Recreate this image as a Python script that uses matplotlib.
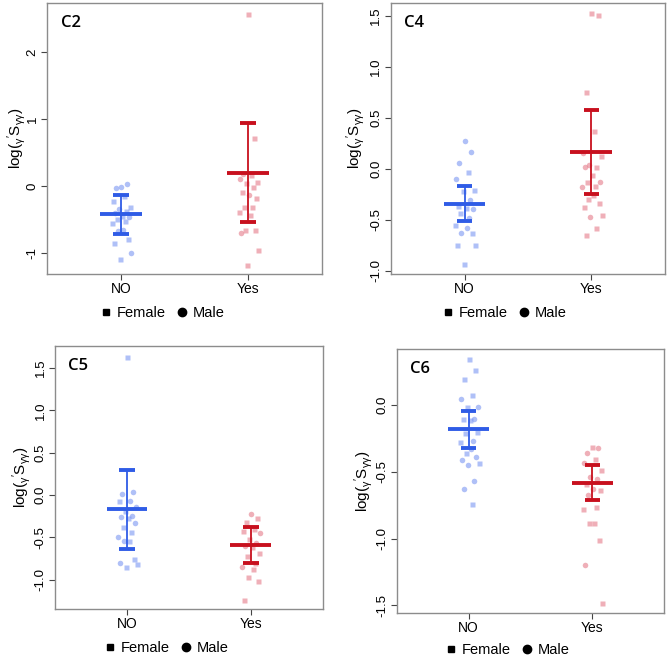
import matplotlib
matplotlib.use("Agg")
import matplotlib.pyplot as plt
import numpy as np

plt.rcParams['font.family'] = ['Liberation Sans', 'DejaVu Sans']
plt.rcParams['mathtext.default'] = 'regular'

groups = ["NO", "Yes"]
panels = ["C2", "C4", "C5", "C6"]

# values per panel / group, with sex codes (F = female square, M = male circle)
c2_no_vals = [-0.02, 0.03, -0.03, -0.15, -0.23, -0.31, -0.35, -0.38, -0.40, -0.45, -0.47, -0.50,
              -0.52, -0.56, -0.66, -0.67, -0.79, -0.86, -1.00, -1.10]
c2_no_sex = list("MMMFFFMFMFMFFFMMFFMF")
c2_yes_vals = [2.58, 0.71, 0.18, 0.16, 0.11, 0.06, 0.045, -0.015, -0.09, -0.135, -0.175, -0.315,
               -0.315, -0.395, -0.43, -0.655, -0.665, -0.705, -0.965, -1.18]
c2_yes_sex = list("FFMFMFFFFMFFFFFFFMFF")

c4_no_vals = [0.28, 0.17, 0.055, -0.03, -0.095, -0.21, -0.22, -0.30, -0.36, -0.385, -0.39, -0.43,
              -0.48, -0.545, -0.58, -0.63, -0.63, -0.75, -0.75, -0.93]
c4_no_sex = list("MMMFMFFMFFMFMFMMFFFF")
c4_yes_vals = [1.53, 1.51, 0.76, 0.375, 0.157, 0.125, 0.04, 0.02, 0.02, -0.062, -0.13, -0.13,
               -0.17, -0.18, -0.25, -0.295, -0.33, -0.375, -0.45, -0.47, -0.58, -0.65]
c4_yes_sex = list("FFFFMFMFMFMFFMFFFFFMFF")

c5_no_vals = [1.63, 0.03, 0.008, -0.067, -0.067, -0.14, -0.19, -0.244, -0.256, -0.268, -0.335,
              -0.374, -0.433, -0.49, -0.54, -0.54, -0.76, -0.80, -0.81, -0.854]
c5_no_sex = list("FMMMFMFMMFMFFMFMFMFF")
c5_yes_vals = [-0.228, -0.276, -0.315, -0.405, -0.42, -0.453, -0.52, -0.563, -0.60, -0.61, -0.68,
               -0.72, -0.807, -0.846, -0.877, -0.965, -1.01, -1.24]
c5_yes_sex = list("MFFFFMFMMFFFFMFFFF")

c6_no_vals = [0.35, 0.265, 0.20, 0.08, 0.05, -0.01, -0.01, -0.10, -0.105, -0.11, -0.20, -0.205,
              -0.27, -0.275, -0.33, -0.36, -0.385, -0.41, -0.435, -0.45, -0.565, -0.625, -0.74]
c6_no_sex = list("FFFFMMFMFFFFMFMFMMFMMMF")
c6_yes_vals = [-0.31, -0.32, -0.36, -0.405, -0.43, -0.485, -0.535, -0.55, -0.59, -0.63, -0.635,
               -0.67, -0.76, -0.78, -0.88, -0.88, -1.01, -1.20, -1.48]
c6_yes_sex = list("FMMFMFMMFMFMFFFFFMF")

# mean and error-bar ends (lower, upper) per panel: [NO, Yes]
means = {"C2": [-0.42, 0.20], "C4": [-0.34, 0.17], "C5": [-0.17, -0.59], "C6": [-0.18, -0.58]}
lows = {"C2": [-0.72, -0.54], "C4": [-0.51, -0.24], "C5": [-0.64, -0.80], "C6": [-0.32, -0.71]}
highs = {"C2": [-0.13, 0.94], "C4": [-0.17, 0.58], "C5": [0.30, -0.38], "C6": [-0.04, -0.45]}

data = {
    "C2": [(c2_no_vals, c2_no_sex), (c2_yes_vals, c2_yes_sex)],
    "C4": [(c4_no_vals, c4_no_sex), (c4_yes_vals, c4_yes_sex)],
    "C5": [(c5_no_vals, c5_no_sex), (c5_yes_vals, c5_yes_sex)],
    "C6": [(c6_no_vals, c6_no_sex), (c6_yes_vals, c6_yes_sex)],
}

ylims = {"C2": (-1.32, 2.74), "C4": (-1.03, 1.63), "C5": (-1.346, 1.76), "C6": (-1.556, 0.4225)}
yticks = {"C2": [-1, 0, 1, 2], "C4": [-1.0, -0.5, 0.0, 0.5, 1.0, 1.5],
          "C5": [-1.0, -0.5, 0.0, 0.5, 1.0, 1.5], "C6": [-1.5, -1.0, -0.5, 0.0]}
ytickfmt = {"C2": "{:.0f}", "C4": "{:.1f}", "C5": "{:.1f}", "C6": "{:.1f}"}

W, H = 669, 658
positions = {
    "C2": [47/W, 1-274/H, (322-47)/W, (274-3)/H],
    "C4": [390.7/W, 1-274/H, (665-390.7)/W, (274-3)/H],
    "C5": [55/W, 1-609/H, (322.7-55)/W, (609-346)/H],
    "C6": [396.7/W, 1-612.7/H, (664-396.7)/W, (612.7-349)/H],
}
ylabel_x = {"C2": -0.07, "C4": -0.088, "C5": -0.084, "C6": -0.083}
legend_xy = {"C2": (161.5, 313), "C4": (504, 313), "C5": (165.5, 648), "C6": (506.5, 650)}

pt_colors = ["#7b96f2", "#e57b8a"]
bar_colors = ["#2f5ce6", "#c8101e"]

fig = plt.figure(figsize=(6.69, 6.58), dpi=100)

jit_pattern = [0.0, 0.06, -0.05, 0.03, -0.08, 0.09, -0.02, 0.05, -0.06, 0.01, 0.08, -0.04,
               0.04, -0.09, 0.02, -0.03, 0.07, -0.07, 0.1, -0.01, 0.05, -0.05, 0.03]

for p in panels:
    ax = fig.add_axes(positions[p])
    for gi, (vals, sex) in enumerate(data[p]):
        xc = gi + 1
        for i, (v, s) in enumerate(zip(vals, sex)):
            xj = xc + jit_pattern[i % len(jit_pattern)] * 0.8
            ax.plot(xj, v, marker='s' if s == 'F' else 'o', ms=3.6 if s == 'F' else 4.0,
                    color=pt_colors[gi], alpha=0.6, mec='none', ls='none', zorder=2)
        c = bar_colors[gi]
        ax.plot([xc, xc], [lows[p][gi], highs[p][gi]], color=c, lw=1.3, zorder=3,
                solid_capstyle='butt')
        ax.plot([xc - 0.165, xc + 0.165], [means[p][gi]] * 2, color=c, lw=2.8, zorder=3,
                solid_capstyle='butt')
        for yv in (lows[p][gi], highs[p][gi]):
            ax.plot([xc - 0.062, xc + 0.062], [yv, yv], color=c, lw=2.8, zorder=3,
                    solid_capstyle='butt')
    ax.set_xlim(0.418, 2.58)
    ax.set_ylim(*ylims[p])
    ax.set_xticks([1, 2])
    ax.set_xticklabels(groups, fontsize=10)
    ax.set_yticks(yticks[p])
    ax.set_yticklabels([ytickfmt[p].format(t) for t in yticks[p]], fontsize=9.5,
                       rotation=90, va='center')
    ax.tick_params(direction='out', length=4, width=0.8, color='#444444', pad=2)
    for sp in ax.spines.values():
        sp.set_color('#8c8c8c')
        sp.set_linewidth(1.0)
    ax.set_ylabel(r'log($_{\gamma}$$^{\prime}$S$_{\gamma\gamma}$)', fontsize=11)
    ax.yaxis.set_label_coords(ylabel_x[p], 0.5)
    ax.text(0.05, 0.955, p, transform=ax.transAxes, fontsize=12, ha='left', va='top',
            fontfamily=['Open Sans', 'DejaVu Sans'], fontweight='semibold')
    lx, ly = legend_xy[p]
    fig.legend(handles=[
        plt.Line2D([], [], marker='s', ls='none', color='black', ms=5, label='Female'),
        plt.Line2D([], [], marker='o', ls='none', color='black', ms=6, label='Male')],
        loc='center', bbox_to_anchor=(lx / W, 1 - ly / H), ncol=2, frameon=False,
        fontsize=10.5, handletextpad=0.25, columnspacing=0.6, handlelength=1.0,
        borderpad=0, borderaxespad=0)

fig.savefig("out.png", dpi=100)
